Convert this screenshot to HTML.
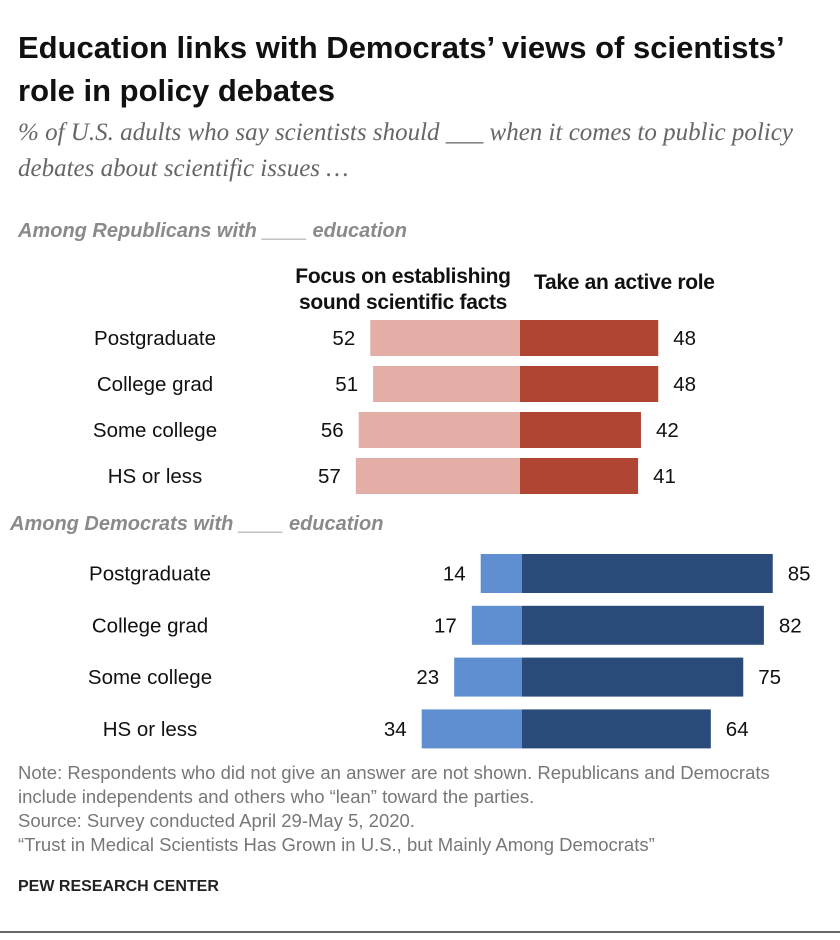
<!DOCTYPE html>
<html><head><meta charset="utf-8"><style>
body{margin:0;background:#fff;width:840px;height:940px;position:relative;overflow:hidden;font-family:"Liberation Sans",sans-serif}
.t{position:absolute;white-space:nowrap}
.title{left:18px;top:26px;font-size:31px;font-weight:bold;line-height:43px;color:#111}
.sub{left:18px;top:115px;font-family:"Liberation Serif",serif;font-style:italic;font-size:25px;line-height:36px;color:#666}
.grp{font-style:italic;font-weight:bold;font-size:20px;color:#8a8a8a}
.hdr{font-weight:bold;font-size:21px;line-height:26px;color:#111;text-align:center;letter-spacing:-0.3px}
.note{left:18px;font-size:18.5px;color:#777;line-height:24px}
</style></head><body>
<div class="t title">Education links with Democrats’ views of scientists’<br>role in policy debates</div>
<div class="t sub">% of U.S. adults who say scientists should ___ when it comes to public policy<br>debates about scientific issues …</div>
<div class="t grp" style="left:18px;top:220px">Among Republicans with ____ education</div>
<div class="t grp" style="left:10px;top:513px">Among Democrats with ____ education</div>
<div class="t hdr" style="left:280px;top:264px;width:246px">Focus on establishing<br>sound scientific facts</div>
<div class="t hdr" style="left:534px;top:270px">Take an active role</div>
<svg id="chart" width="840" height="940" style="position:absolute;left:0;top:0"></svg>
<div class="t note" style="top:761px">Note: Respondents who did not give an answer are not shown. Republicans and Democrats<br>include independents and others who “lean” toward the parties.</div>
<div class="t note" style="top:809px">Source: Survey conducted April 29-May 5, 2020.</div>
<div class="t note" style="top:833px">“Trust in Medical Scientists Has Grown in U.S., but Mainly Among Democrats”</div>
<div class="t" style="left:18px;top:878px;font-size:16px;font-weight:bold;color:#222">PEW RESEARCH CENTER</div>
<script>
const categories=["Postgraduate","College grad","Some college","HS or less"];
const repFocus=[52,51,56,57];
const repActive=[48,48,42,41];
const demFocus=[14,17,23,34];
const demActive=[85,82,75,64];
const svg=document.getElementById('chart');
const NS='http://www.w3.org/2000/svg';
function el(tag,attrs){const e=document.createElementNS(NS,tag);for(const k in attrs)e.setAttribute(k,attrs[k]);svg.appendChild(e);return e;}
function drawGroup(name,focus,active,cx,scale,y0,step,h,cLight,cDark,labelX){
  categories.forEach((c,i)=>{
    const yc=y0+i*step;
    const wl=focus[i]*scale, wr=active[i]*scale;
    const r1=el('rect',{x:cx-wl,y:yc-h/2,width:wl,height:h,fill:cLight});
    
    
    const r2=el('rect',{x:cx,y:yc-h/2,width:wr,height:h,fill:cDark});
    
    
    const t1=el('text',{x:cx-wl-15,y:yc+7,'text-anchor':'end','font-size':20.5,fill:'#111','font-family':'Liberation Sans, sans-serif'});
    t1.textContent=focus[i];
    
    
    const t2=el('text',{x:cx+wr+15,y:yc+7,'font-size':20.5,fill:'#111','font-family':'Liberation Sans, sans-serif'});
    t2.textContent=active[i];
    
    
    const t3=el('text',{x:labelX,y:yc+7,'text-anchor':'middle','font-size':20.5,fill:'#111','font-family':'Liberation Sans, sans-serif'});
    t3.textContent=c;
    
    
  });
}
drawGroup('rep',repFocus,repActive,520,2.88,338,46,36,'#e2aea6','#b04533',155);
drawGroup('dem',demFocus,demActive,522,2.95,573.5,51.8,39,'#5f8fd0','#2a4a7a',150);
const ln=el('line',{x1:0,y1:932,x2:840,y2:932,stroke:'#333','stroke-width':1.5});


</script>
</body></html>
